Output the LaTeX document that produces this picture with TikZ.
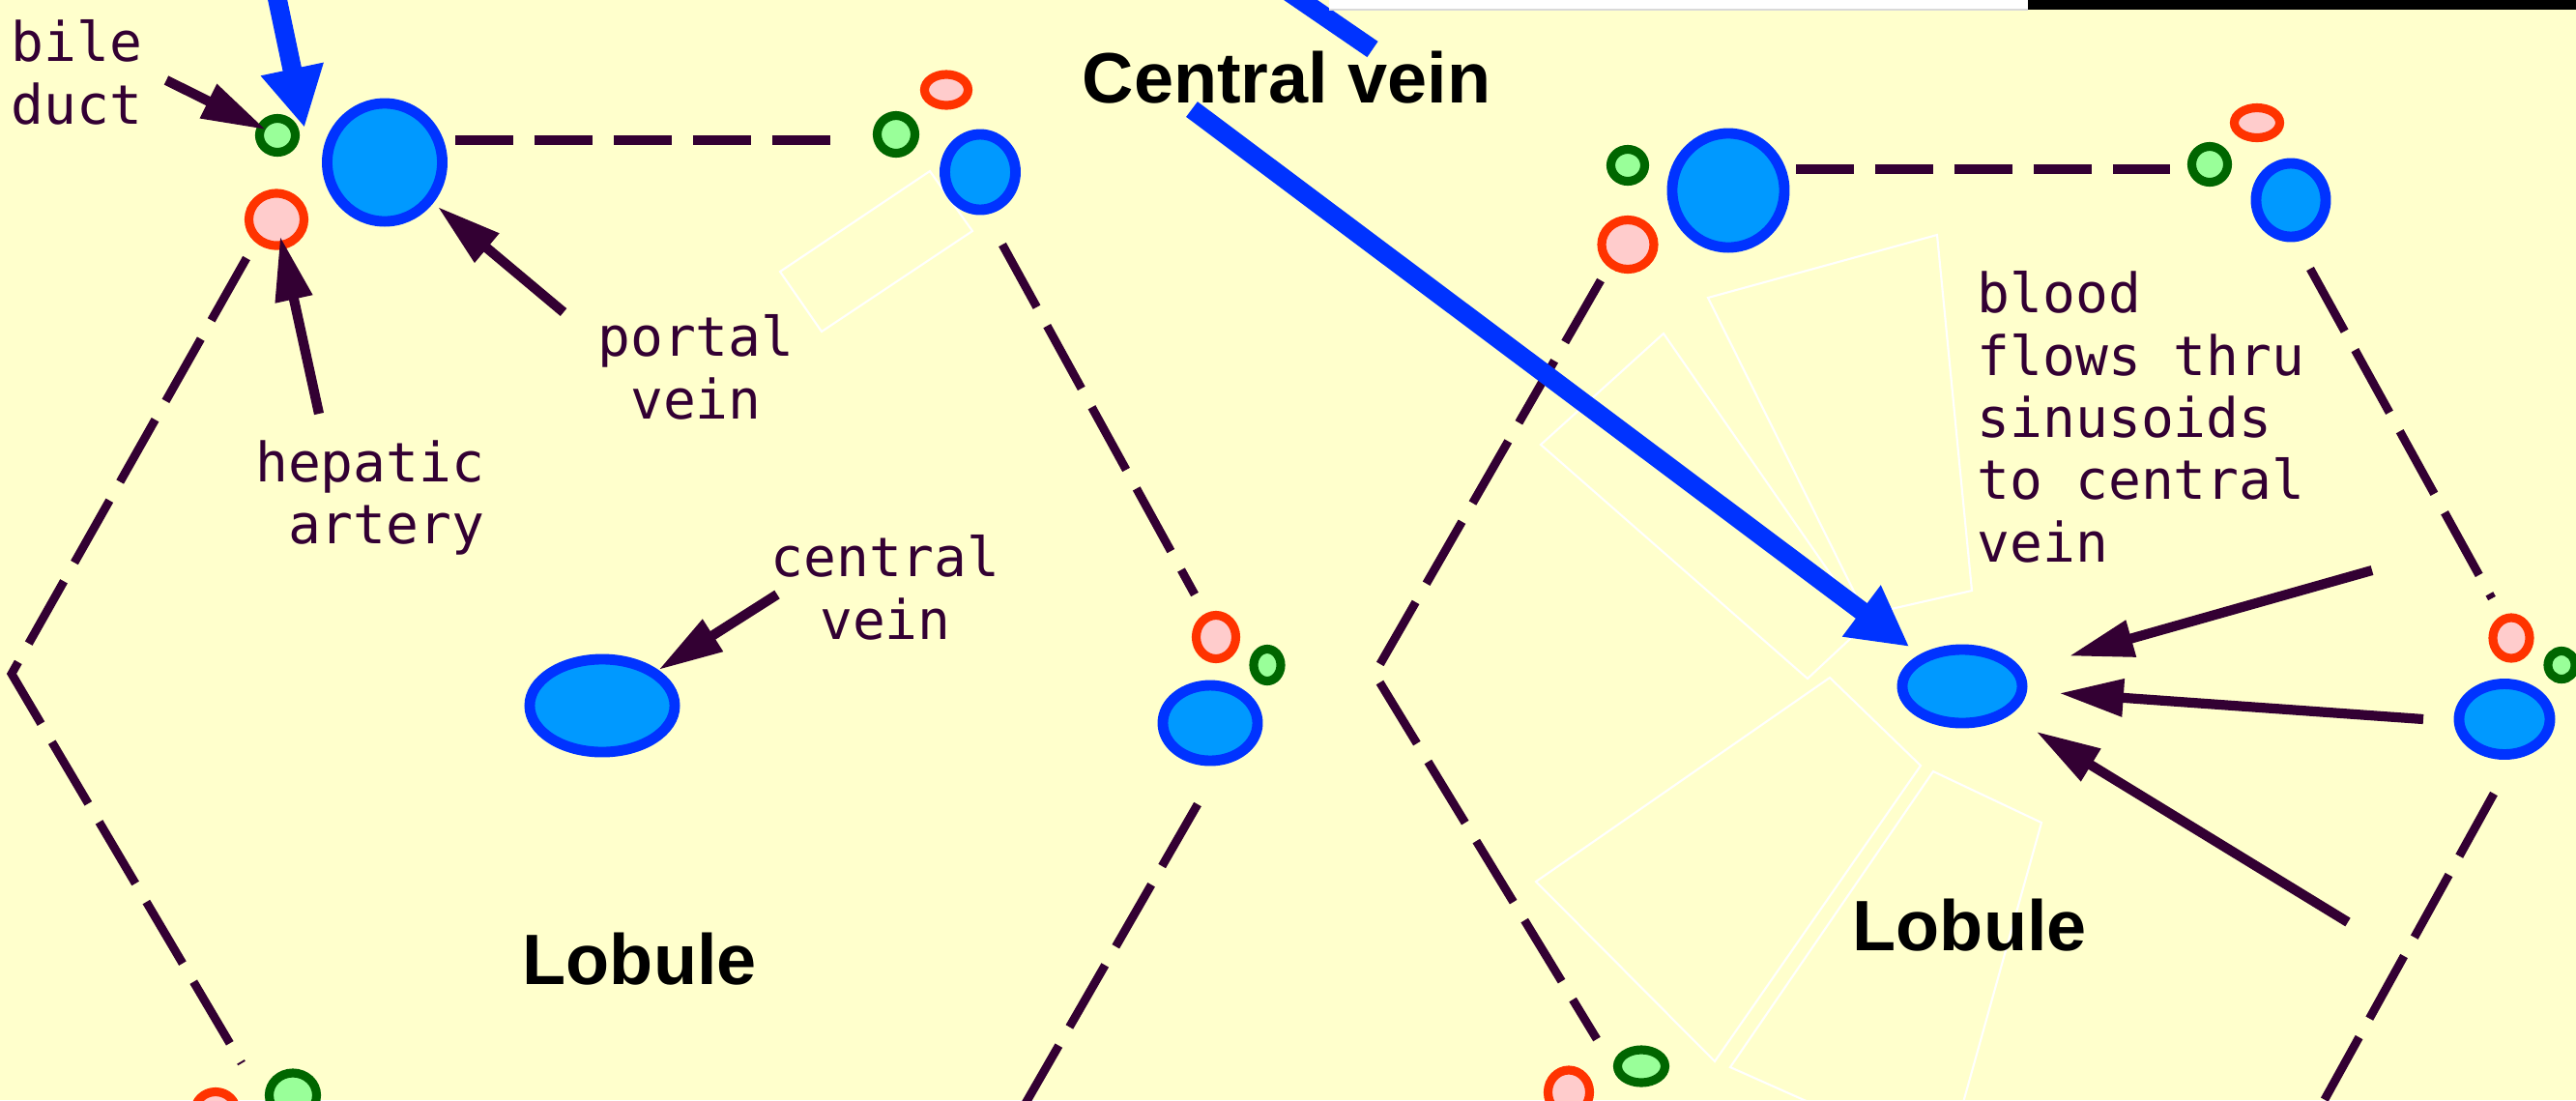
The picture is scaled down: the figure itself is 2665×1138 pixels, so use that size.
\documentclass[tikz,border=0pt]{standalone}
\usepackage{fontspec}
\usetikzlibrary{arrows.meta,shapes.geometric}
\newfontfamily\notefont{DejaVu Sans Mono}
\newfontfamily\headfont{Liberation Sans}
\definecolor{paper}{RGB}{255,255,204}
\definecolor{ink}{RGB}{51,0,51}
\definecolor{veinline}{RGB}{0,51,255}
\definecolor{veinfill}{RGB}{0,153,255}
\definecolor{arteryline}{RGB}{255,51,0}
\definecolor{arteryfill}{RGB}{255,204,204}
\definecolor{ductline}{RGB}{0,102,0}
\definecolor{ductfill}{RGB}{153,255,153}

\begin{document}
\begin{tikzpicture}[x=0.01cm,y=-0.01cm,
        vein/.style={ellipse,draw=veinline,fill=veinfill,line width=3.1pt,inner sep=0pt},
        artery/.style={ellipse,draw=arteryline,fill=arteryfill,line width=2.6pt,inner sep=0pt},
        duct/.style={ellipse,draw=ductline,fill=ductfill,line width=2.6pt,inner sep=0pt},
        wall/.style={ink,line width=2.5pt,dash pattern=on 21pt off 6.3pt},
        walltop/.style={ink,line width=2.8pt,dash pattern=on 17pt off 6.3pt},
        plate/.style={white,line width=0.6pt},
        ptr/.style={ink,line width=2.9pt,-{Triangle[length=19pt,width=10.5pt]}},
        flow/.style={veinline,line width=5.6pt,-{Triangle[length=17.6pt,width=17.6pt]}},
        note/.style={text=ink,font=\notefont\fontsize{16}{18.3}\selectfont,inner sep=0pt},
        title/.style={text=black,font=\headfont\bfseries\fontsize{21}{25}\selectfont,inner sep=0pt}]
    \useasboundingbox (0,0) rectangle (2665,1138);
    \clip (0,0) rectangle (2665,1138);
    \fill[paper] (0,0) rectangle (2665,1138);

    % sinusoid plates
    \draw[plate] (962,177) -- (1006,239) -- (850,343) -- (807,281) -- cycle;
    \draw[plate] (1767,308) -- (2004,243) -- (2040,611) -- (1930,636) -- cycle;
    \draw[plate] (1721,345) -- (1594,460) -- (1870,702) -- (1930,646) -- cycle;
    \draw[plate] (1893,701) -- (1987,792) -- (1774,1098) -- (1589,912) -- cycle;
    \draw[plate] (2020,1180) -- (2112,851) -- (2000,798) -- (1790,1104) -- (1900,1153);

    % lobule borders
    \draw[walltop] (471,145) -- (880,145);
    \draw[wall] (255,267) -- (12,697) -- (250,1100);
    \draw[wall] (1037,253) -- (1236,615);
    \draw[wall] (1239,832) -- (1056,1150);
    \draw[walltop] (1858,175) -- (2245,175);
    \draw[wall] (1656,290) -- (1422,697) -- (1652,1075);
    \draw[wall] (2390,278) -- (2578,619);
    \draw[wall] (2580,821) -- (2398,1150);

    % portal triads, left lobule
    \node[vein,minimum width=1.19cm,minimum height=1.22cm] (PV1) at (398,168) {};
    \node[duct,minimum width=0.37cm,minimum height=0.35cm] (BD1) at (287,140) {};
    \node[artery,minimum width=0.57cm,minimum height=0.54cm] (HA1) at (286,227) {};
    \node[vein,minimum width=0.73cm,minimum height=0.78cm] (PV2) at (1014,178) {};
    \node[artery,minimum width=0.45cm,minimum height=0.32cm] (HA2) at (979,93) {};
    \node[duct,minimum width=0.39cm,minimum height=0.39cm] (BD2) at (927,139) {};
    \node[artery,minimum width=0.41cm,minimum height=0.45cm] (HA3) at (1258,659) {};
    \node[duct,minimum width=0.28cm,minimum height=0.33cm] (BD3) at (1311,688) {};
    \node[vein,minimum width=0.98cm,minimum height=0.78cm] (PV3) at (1252,748) {};
    \node[artery,minimum width=0.43cm,minimum height=0.41cm] (HA7) at (223,1150) {};
    \node[duct,minimum width=0.49cm,minimum height=0.46cm] (BD7) at (303,1133) {};
    \node[vein,minimum width=1.50cm,minimum height=0.96cm] (CV1) at (623,730) {};

    % portal triads, right lobule
    \node[duct,minimum width=0.35cm,minimum height=0.33cm] (BD4) at (1684,171) {};
    \node[artery,minimum width=0.54cm,minimum height=0.51cm] (HA4) at (1684,253) {};
    \node[vein,minimum width=1.16cm,minimum height=1.18cm] (PV4) at (1788,197) {};
    \node[duct,minimum width=0.37cm,minimum height=0.37cm] (BD5) at (2286,170) {};
    \node[artery,minimum width=0.47cm,minimum height=0.31cm] (HA5) at (2335,127) {};
    \node[vein,minimum width=0.72cm,minimum height=0.76cm] (PV5) at (2370,207) {};
    \node[artery,minimum width=0.38cm,minimum height=0.42cm] (HA6) at (2598,660) {};
    \node[duct,minimum width=0.28cm,minimum height=0.29cm] (BD6) at (2650,688) {};
    \node[vein,minimum width=0.94cm,minimum height=0.73cm] (PV6) at (2591,744) {};
    \node[artery,minimum width=0.43cm,minimum height=0.46cm] (HA8) at (1623,1130) {};
    \node[duct,minimum width=0.49cm,minimum height=0.34cm] (BD8) at (1698,1103) {};
    \node[vein,minimum width=1.24cm,minimum height=0.76cm] (CV2) at (2030,710) {};

    % labels
    \node[note,anchor=north west,align=left] (bile) at (11,20) {bile\\duct};
    \node[note,anchor=north,align=center] (portal) at (720,325) {portal\\vein};
    \node[note,anchor=north east,align=right] (hepatic) at (502,455) {hepatic\\artery};
    \node[note,anchor=north,align=center] (central) at (916,553) {central\\vein};
    \node[note,anchor=north west,align=left] (blood) at (2045,280) {blood\\flows thru\\sinusoids\\to central\\vein};
    \node[title,anchor=base west] (cvname) at (1119,106) {Central vein};
    \node[title,anchor=base west] (lobA) at (540,1018) {Lobule};
    \node[title,anchor=base west] (lobB) at (1916,983) {Lobule};

    % pointers
    \coordinate (bdtail) at (172,83);
    \coordinate (pvtail) at (583,323);
    \coordinate (hatail) at (330,428);
    \coordinate (cvtail) at (804,615);
    \coordinate (sinA) at (2454,590);
    \coordinate (sinB) at (2507,744);
    \coordinate (sinC) at (2429,954);
    \draw[ptr,shorten >=-2.8pt] (bdtail) -- (BD1);
    \draw[ptr,shorten >=1.6pt] (pvtail) -- (PV1);
    \draw[ptr,shorten >=-4pt] (hatail) -- (HA1);
    \draw[ptr] (cvtail) -- (CV1);
    \draw[ptr,shorten >=14.4pt] (sinA) -- (CV2);
    \draw[ptr,shorten >=9.4pt] (sinB) -- (CV2);
    \draw[ptr,shorten >=9.1pt] (sinC) -- (CV2);

    % blue flow arrows
    \coordinate (flowtop) at (284,-15);
    \coordinate (flowtip) at (315,132);
    \coordinate (flowtail) at (1233,113);
    \coordinate (cutA) at (1331,-10);
    \coordinate (cutB) at (1420,51);
    \draw[flow] (flowtop) -- (flowtip);
    \draw[flow,shorten >=3.8pt] (flowtail) -- (CV2);
    \draw[veinline,line width=5.6pt] (cutA) -- (cutB);

    % strips along the top edge
    \fill[white] (1375,0) rectangle (2098,9);
    \fill[gray!30] (1375,9) rectangle (2098,11);
    \fill[black] (2098,0) rectangle (2665,10);
\end{tikzpicture}
\end{document}
